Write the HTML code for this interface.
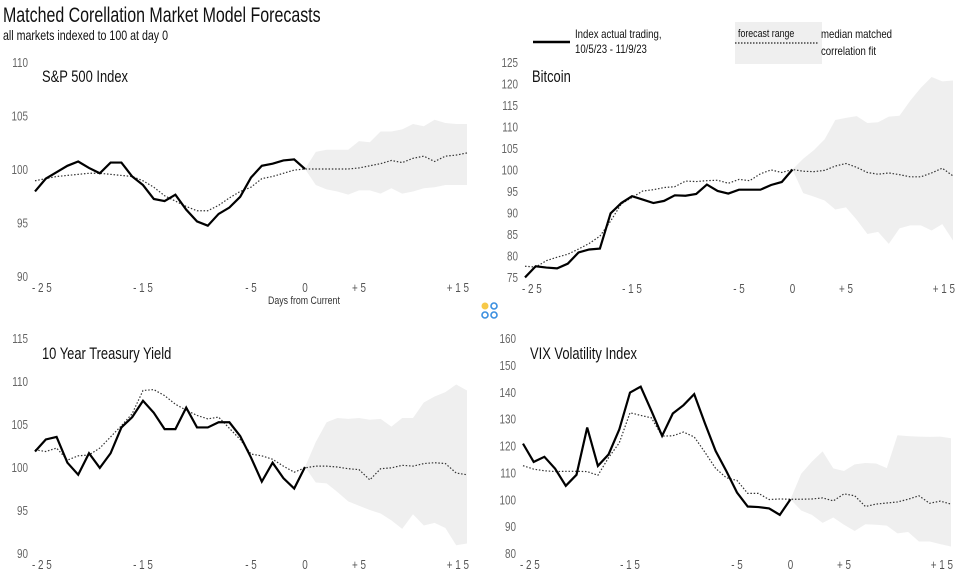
<!DOCTYPE html>
<html><head><meta charset="utf-8"><style>
body{margin:0;background:#fff;width:959px;height:580px;overflow:hidden}
svg{display:block;font-family:"Liberation Sans Narrow","Liberation Sans",sans-serif}
</style></head><body>
<svg id="c" width="959" height="580">
<text x="3" y="22" font-size="21" fill="#111">Matched Corellation Market Model Forecasts</text>
<text x="3" y="40" font-size="14" fill="#111">all markets indexed to 100 at day 0</text>
<g>
<line x1="533" y1="42" x2="570" y2="42" stroke="#000" stroke-width="2.5"/>
<text x="575" y="38" font-size="12" fill="#111">Index actual trading,</text>
<text x="575" y="53" font-size="12" fill="#111">10/5/23 - 11/9/23</text>
<rect x="735" y="22" width="87" height="42" fill="#efefef"/>
<text x="738" y="37" font-size="11" fill="#111">forecast range</text>
<line x1="735" y1="43" x2="818" y2="43" stroke="#222" stroke-width="1.3" stroke-dasharray="1.5,1.5"/>
<text x="821" y="38" font-size="12" fill="#111">median matched</text>
<text x="821" y="55" font-size="12" fill="#111">correlation fit</text>
</g>
<text x="268" y="304" font-size="11" fill="#333">Days from Current</text>
<circle cx="485" cy="306" r="3.5" fill="#f7c948"/>
<circle cx="494" cy="306" r="3" fill="none" stroke="#3b8fe0" stroke-width="1.6"/>
<circle cx="485" cy="315" r="3" fill="none" stroke="#3b8fe0" stroke-width="1.6"/>
<circle cx="494" cy="315" r="3" fill="none" stroke="#3b8fe0" stroke-width="1.6"/>
</svg>
<script>
const days=[];for(let d=-25;d<=15;d++)days.push(d);
const xTickLabels=["- 2 5","- 1 5","- 5","0","+ 5","+ 1 5"];
const xTickDays=[-25,-15,-5,0,5,15];

const spActual=[97.9,99.1,99.7,100.3,100.7,100.1,99.6,100.6,100.6,99.3,98.5,97.2,97.0,97.6,96.2,95.1,94.7,95.8,96.4,97.4,99.2,100.3,100.5,100.8,100.9,100];
const spMedian=[98.9,99.1,99.3,99.4,99.5,99.6,99.6,99.5,99.4,99.3,98.9,98.3,97.5,97.0,96.5,96.1,96.1,96.6,97.3,97.9,98.3,99.1,99.3,99.6,99.9,100,100,100,100,100,100.1,100.3,100.5,100.8,100.6,101,101.2,100.7,101.2,101.3,101.5];
const spUpper=[100,101.6,101.8,101.8,101.8,102.6,102.5,103.5,103.5,103.7,104.2,104.0,104.6,104.3,104.2,104.2];
const spLower=[100,98.5,98.1,97.9,97.6,98.0,98.0,97.7,98.2,97.7,97.9,98.2,98.3,98.5,98.5,98.5];
const spTicks=[90,95,100,105,110];

const btcActual=[74.9,77.5,77.2,77.0,78.1,80.7,81.4,81.6,89.8,92.2,93.8,93.0,92.2,92.7,94.0,93.9,94.3,96.5,95.0,94.4,95.3,95.3,95.3,96.4,97.1,100];
const btcMedian=[77.5,77.3,78.8,79.6,80.3,81.5,82.8,84.5,88,92,93.5,95.0,95.3,95.8,96.0,97.3,97.2,97.4,97.5,96.8,97.7,97.4,99.0,99.9,99.3,100,99.6,99.5,99.8,100.8,101.4,100.5,99.3,98.9,99.2,98.8,98.3,98.3,99.2,100.3,98.5];
const btcUpper=[100,102.5,104.5,107,111.5,112,112.4,110.8,111,112.3,112.5,116,119,121.5,120.5,120.7];
const btcLower=[100,94.5,93.7,92.8,90.7,91.2,88.3,85,85.5,82.7,86.3,87,87,85.8,87.3,83.5];
const btcTicks=[75,80,85,90,95,100,105,110,115,120,125];

const tyActual=[101.8,103.2,103.5,100.5,99.1,101.6,99.9,101.6,104.6,105.8,107.7,106.3,104.4,104.4,106.9,104.6,104.6,105.2,105.2,103.6,101.1,98.3,100.5,98.7,97.5,100];
const tyMedian=[102,101.8,102.2,100.8,101.3,101.4,102.2,103.5,104.8,106.2,108.9,109.0,108.3,107.3,106.6,106,105.6,105.8,104.5,103.2,101.5,101.3,100.9,100.1,99.4,99.9,100.1,100.1,100,99.8,99.7,98.5,99.8,99.9,100.2,100.1,100.4,100.5,100.4,99.3,99.1];
const tyUpper=[100,102.9,105.2,105.7,105.6,105.7,105.5,105.6,104.7,105.7,105.7,107.5,108.2,108.7,109.6,108.9];
const tyLower=[100,98.2,98.1,97.1,96.0,95.5,95.0,94.6,93.8,92.8,94.5,93.2,93.5,92.9,90.9,91.1];
const tyTicks=[90,95,100,105,110,115];

const vixActual=[120.7,113.9,115.8,111.4,105,109.1,126.7,112.4,116.7,126,139.7,141.9,132.9,123.6,131.9,135,139.1,128.3,118,110.5,102.5,97.3,97.1,96.6,94.2,100];
const vixMedian=[112.5,111.2,110.6,110.3,110.4,110.4,110.3,108.9,115.5,121,132.2,131.2,130.3,123.5,123.6,125,123.2,117.5,111.5,108,107,102.2,102.2,99.9,100.1,100,100,100.1,100.5,99.4,102,101.3,97.3,98.2,98.6,99.0,100,101.3,98.5,99.3,98.2];
const vixUpper=[100,109.5,114,117.8,111.5,110.5,113,113.5,113.3,111.6,123.8,123.5,123.3,123.2,123.3,122.7];
const vixLower=[100,95.8,94.2,91.2,93.2,90.5,88.2,90.7,90.5,90.2,87.3,87.8,84.3,84.3,83.3,82.4];
const vixTicks=[80,90,100,110,120,130,140,150,160];

const NS="http://www.w3.org/2000/svg";
const svg=document.getElementById('c');
function mk(t,a,p){const e=document.createElementNS(NS,t);for(const k in a)e.setAttribute(k,a[k]);(p||svg).appendChild(e);return e;}

function panel(slug,title,x0,x1,yTop,yBot,vMin,vMax,ticks,actual,median,upper,lower,labelX,titleY){
  const g=mk('g',{});
  
  
  const xs=d=>x0+(d+25)*(x1-x0)/40;
  const ys=v=>yBot-(v-vMin)*(yBot-yTop)/(vMax-vMin);
  let pts=[];
  for(let i=0;i<upper.length;i++)pts.push(xs(i)+','+ys(upper[i]));
  for(let i=lower.length-1;i>=0;i--)pts.push(xs(i)+','+ys(lower[i]));
  const band=mk('polygon',{points:pts.join(' '),fill:'#efefef'},g);
  
  
  const med=mk('polyline',{points:median.map((v,i)=>xs(days[i])+','+ys(v)).join(' '),fill:'none',stroke:'#333','stroke-width':1.2,'stroke-dasharray':'1.5,1.8'},g);
  
  
  const act=mk('polyline',{points:actual.map((v,i)=>xs(days[i])+','+ys(v)).join(' '),fill:'none',stroke:'#000','stroke-width':2.2,'stroke-linejoin':'miter'},g);
  
  
  ticks.forEach(t=>{
    const tx=mk('text',{x:labelX,y:ys(t)+5,'font-size':13,fill:'#666','text-anchor':'end'},g);
    tx.textContent=t;
    
    
  });
  xTickDays.forEach((d,i)=>{
    let anchor='middle',x=xs(d);
    if(i===0){anchor='start';x-=3;}
    if(i===xTickDays.length-1){anchor='end';x+=2;}
    const tx=mk('text',{x:x,y:yBot+16,'font-size':13,fill:'#555','text-anchor':anchor},g);
    tx.textContent=xTickLabels[i];
    
    
  });
  const tt=mk('text',{x:labelX+14,y:titleY,'font-size':17,fill:'#111'},g);
  tt.textContent=title;
  
  
}
panel('sp500','S&P 500 Index',35,467,62,276,90,110,spTicks,spActual,spMedian,spUpper,spLower,28,82);
panel('bitcoin','Bitcoin',525,953,62,277,75,125,btcTicks,btcActual,btcMedian,btcUpper,btcLower,518,82);
panel('treasury','10 Year Treasury Yield',35,467,338,553,90,115,tyTicks,tyActual,tyMedian,tyUpper,tyLower,28,359);
panel('vix','VIX Volatility Index',523,951,338,553,80,160,vixTicks,vixActual,vixMedian,vixUpper,vixLower,516,359);
svg.querySelectorAll('text').forEach(t=>{
  const fs=parseFloat(t.getAttribute('font-size'));
  const f=fs>=13?0.76:0.8;
  const w=t.getComputedTextLength();
  t.setAttribute('textLength',(w*f).toFixed(1));
  t.setAttribute('lengthAdjust','spacingAndGlyphs');
});
</script>
</body></html>
